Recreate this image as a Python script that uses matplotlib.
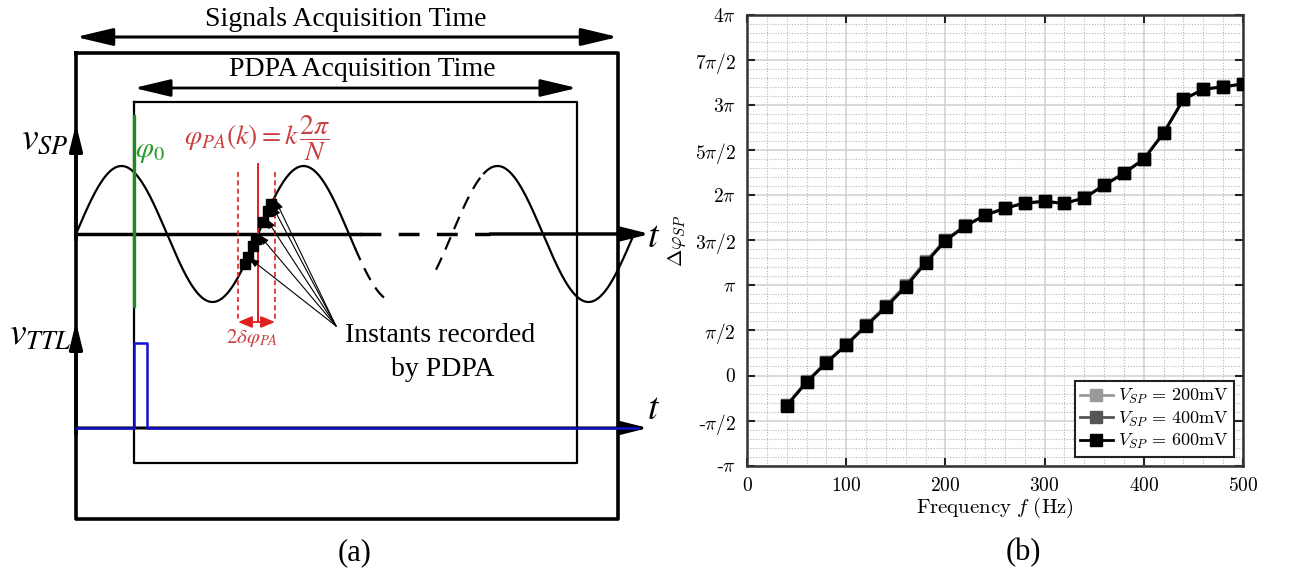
import numpy as np
import matplotlib.pyplot as plt

plt.rcParams['mathtext.fontset'] = 'cm'
plt.rcParams['font.family'] = 'Liberation Serif'

# ---- data for panel (b) ----
freq = [40, 60, 80, 100, 120, 140, 160, 180, 200, 220, 240, 260,
        280, 300, 320, 340, 360, 380, 400, 420, 440, 460, 480, 500]
# phase difference in units of pi
dphi_200 = [-0.325, -0.065, 0.150, 0.345, 0.560, 0.775, 1.005, 1.265, 1.505, 1.665, 1.780, 1.860,
            1.915, 1.935, 1.910, 1.975, 2.115, 2.250, 2.405, 2.695, 3.065, 3.175, 3.205, 3.235]
dphi_400 = [-0.330, -0.070, 0.145, 0.340, 0.555, 0.765, 0.995, 1.255, 1.500, 1.660, 1.778, 1.855,
            1.912, 1.932, 1.909, 1.970, 2.110, 2.245, 2.400, 2.690, 3.062, 3.172, 3.202, 3.232]
dphi_600 = [-0.336, -0.076, 0.141, 0.337, 0.548, 0.755, 0.983, 1.246, 1.493, 1.656, 1.775, 1.853,
            1.911, 1.930, 1.908, 1.967, 2.108, 2.241, 2.396, 2.687, 3.061, 3.172, 3.201, 3.231]
series_labels = [r'$V_{SP}\,=\,200\mathrm{mV}$', r'$V_{SP}\,=\,400\mathrm{mV}$',
                 r'$V_{SP}\,=\,600\mathrm{mV}$']
series_cols = ['#9a9a9a', '#555555', '#000000']

yticks_pi = [-1, -0.5, 0, 0.5, 1, 1.5, 2, 2.5, 3, 3.5, 4]
ytick_labels = [r'-$\pi$', r'-$\pi/2$', r'$0$', r'$\pi/2$', r'$\pi$', r'$3\pi/2$',
                r'$2\pi$', r'$5\pi/2$', r'$3\pi$', r'$7\pi/2$', r'$4\pi$']
xticks = [0, 100, 200, 300, 400, 500]

fig = plt.figure(figsize=(13.08, 5.79), dpi=100)

# ---- panel (a): schematic drawn in pixel coordinates ----
ax0 = fig.add_axes([0, 0, 1, 1])
ax0.set_xlim(0, 1308)
ax0.set_ylim(579, 0)
ax0.axis('off')

serif = 'Liberation Serif'
def txt(x, y, s, size, color='k', **kw):
    ax0.text(x, y, s, fontsize=size, color=color, ha='center', va='center',
             family=serif, math_fontfamily='stix', **kw)

def arrow(x0, y0, x1, y1, style='-|>', lw=2.0, ms=12, color='k', hl=1.2, hw=0.3, z=3):
    ax0.annotate('', xy=(x1, y1), xytext=(x0, y0),
                 arrowprops=dict(arrowstyle=f'{style},head_length={hl},head_width={hw}',
                                 lw=lw, color=color, mutation_scale=ms,
                                 shrinkA=0, shrinkB=0), zorder=z)

# acquisition windows
txt(346, 19, 'Signals Acquisition Time', 20)
arrow(76, 37, 618, 37, style='<|-|>', lw=2.2, ms=14, hl=1.6, hw=0.38)
ax0.plot([76, 618, 618, 76, 76], [53, 53, 519, 519, 53], color='k', lw=2.6)
txt(362, 70, 'PDPA Acquisition Time', 20)
arrow(134, 88, 577, 88, style='<|-|>', lw=2.0, ms=14, hl=1.6, hw=0.38)
ax0.plot([134, 577, 577, 134, 134], [102, 102, 463, 463, 102], color='k', lw=1.6)

# v_SP axis
arrow(76, 240, 76, 124, lw=2.6, ms=12, hl=1.3, hw=0.32)
ax0.plot([76, 360], [234, 234], color='k', lw=2.5)
ax0.plot([360, 490], [234, 234], color='k', lw=2.5, dashes=(6, 5))
arrow(490, 234, 650, 234, lw=2.5, ms=12, hl=1.4, hw=0.35)
txt(45, 140, r'$v_{SP}$', 27)
txt(654, 238, r'$t$', 27)

# sine signal
P, A, y0 = 182.0, 68.0, 234.0
def sig(x, x0):
    return y0 - A * np.sin(2 * np.pi * (np.asarray(x) - x0) / P)
xs = np.linspace(76, 355, 300)
ax0.plot(xs, sig(xs, 76), color='k', lw=1.6)
xs = np.linspace(355, 390, 40)
ax0.plot(xs, sig(xs, 76), color='k', lw=1.6, dashes=(6, 4))
xs = np.linspace(436, 484, 60)
ax0.plot(xs, sig(xs, 452), color='k', lw=1.6, dashes=(6, 4))
xs = np.linspace(484, 634, 200)
ax0.plot(xs, sig(xs, 452), color='k', lw=1.6)

# phase reference
ax0.plot([134, 134], [116, 306], color='#1f8a1f', lw=2.4)
ax0.text(150, 152, r'$\varphi_0$', fontsize=21, color='#2a9a2a', ha='center', va='center',
         math_fontfamily='stix')

red = '#e02020'
ax0.text(257, 138, r'$\varphi_{PA}(k) = k\,\dfrac{2\pi}{N}$', fontsize=20, color='#c84040',
         ha='center', va='center', math_fontfamily='stix')
ax0.plot([258, 258], [164, 322], color=red, lw=1.4)
ax0.plot([238, 238], [172, 322], color=red, lw=1.2, ls='--', dashes=(3, 2))
ax0.plot([275, 275], [172, 322], color=red, lw=1.2, ls='--', dashes=(3, 2))
ax0.annotate('', xy=(238, 322), xytext=(275, 322),
             arrowprops=dict(arrowstyle='<|-|>,head_length=0.6,head_width=0.25', color=red,
                             lw=1.3, mutation_scale=14, shrinkA=0, shrinkB=0))
ax0.text(252, 338, r'$2\delta\varphi_{PA}$', fontsize=15, color='#c84040', ha='center',
         va='center', math_fontfamily='stix')

# instants recorded
sx = np.array([245, 248, 253, 256, 263, 268, 271])
ax0.plot(sx, sig(sx, 76), 's', color='k', ms=6.5)
for hx in [249, 259, 266, 272, 275]:
    ax0.annotate('', xy=(hx, sig(hx, 76) + 3), xytext=(336, 326),
                 arrowprops=dict(arrowstyle='-|>,head_length=0.5,head_width=0.18', color='k',
                                 lw=0.8, mutation_scale=12, shrinkA=0, shrinkB=0))
txt(440, 335, 'Instants recorded', 20)
txt(443, 370, 'by PDPA', 20)

# v_TTL axis
arrow(76, 434, 76, 322, lw=2.6, ms=12, hl=1.3, hw=0.32)
arrow(76, 428, 648, 428, lw=2.2, ms=12, hl=1.4, hw=0.35)
ax0.plot([76, 134, 134, 147, 147, 638], [428, 428, 343, 343, 428, 428], color='#1010d0',
         lw=1.8, zorder=5)
txt(40, 336, r'$v_{TTL}$', 27)
txt(654, 410, r'$t$', 27)

txt(355, 553, '(a)', 22)
txt(1023, 553, '(b)', 22)

# ---- panel (b) ----
ax = fig.add_axes([747 / 1308, 1 - 465.7 / 579, 496 / 1308, 451 / 579])
for vals, lab, col in zip([dphi_200, dphi_400, dphi_600], series_labels, series_cols):
    ax.plot(freq, np.array(vals) * np.pi, '-s', color=col, lw=2, ms=8.5, label=lab, zorder=3)

ax.set_xlim(0, 500)
ax.set_ylim(-np.pi, 4 * np.pi)
ax.set_xticks(xticks)
ax.set_xticklabels([rf'${v}$' for v in xticks])
ax.set_yticks(np.array(yticks_pi) * np.pi)
ax.set_yticklabels(ytick_labels)
ax.set_xticks(np.arange(0, 501, 20), minor=True)
ax.set_yticks(np.arange(-1, 4.001, 0.1) * np.pi, minor=True)
ax.tick_params(which='major', direction='in', top=True, right=True, length=6, width=1.5,
               labelsize=14, color='#222222', pad=8)
ax.tick_params(which='minor', length=0)
ax.grid(which='major', color='#cfcfcf', lw=1.1, ls='-')
ax.grid(which='minor', color='#b5b5b5', lw=0.8, ls=(0, (1, 1.5)))
ax.set_axisbelow(True)
for s in ax.spines.values():
    s.set_linewidth(1.8)
    s.set_color('#333333')
ax.set_xlabel(r'$\mathrm{Frequency}\ f\ \mathrm{(Hz)}$', fontsize=15, labelpad=1)
ax.set_ylabel(r'$\Delta\varphi_{SP}$', fontsize=15)
ax.yaxis.set_label_coords(-0.118, 0.5)
leg = ax.legend(loc='lower right', fontsize=13, fancybox=False, framealpha=1,
                edgecolor='#222222', borderpad=0.3, handlelength=1.8, handletextpad=0.3,
                labelspacing=0.2, borderaxespad=0.5)
leg.get_frame().set_linewidth(1.5)

fig.savefig('out.png', dpi=100)
